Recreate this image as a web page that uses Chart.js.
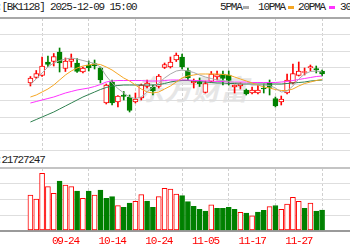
<!DOCTYPE html>
<html>
<head>
<meta charset="utf-8">
<title>BK1128</title>
<script src="https://cdn.jsdelivr.net/npm/chart.js@4.4.1/dist/chart.umd.min.js"></script>
<style>
  html, body { margin: 0; padding: 0; background: #fff; }
  body { width: 350px; height: 250px; overflow: hidden; position: relative; font-family: "Liberation Mono", monospace; }
  .txt { position: absolute; font-size: 11px; line-height: 13px; letter-spacing: -1.2px; color: #222; white-space: nowrap; }
  .dash { position: absolute; top: 6px; width: 6px; height: 3px; }
  #watermark { position: absolute; left: 136px; top: 68px; font: italic bold 28px "Noto Sans CJK SC"; color: #e6e6e6; white-space: nowrap; }
  canvas { position: absolute; left: 0; }
  #kline { top: 0; }
  #vol { top: 156px; }
</style>
</head>
<body>
<div id="watermark">东方财富</div>
<div class="txt" style="left:-4px; top:1px">:[BK1128] 2025-12-09 15:00</div>

<div class="txt" style="left:220px; top:1px">5PMA</div>
<div class="dash" style="left:243px; background:#aaaaaa"></div>
<div class="txt" style="left:258px; top:1px">10PMA</div>
<div class="dash" style="left:288px; background:#f5a623"></div>
<div class="txt" style="left:298px; top:1px">20PMA</div>
<div class="dash" style="left:329px; background:#ff33ff"></div>
<div class="txt" style="left:340px; top:1px">30PMA</div>

<div class="txt" style="left:-4px; top:154px">:21727247</div>

<canvas id="kline" width="350" height="156"></canvas>
<canvas id="vol" width="350" height="94"></canvas>

<script>
const dates = ['09-16','09-17','09-18','09-19','09-22','09-23','09-24','09-25','09-26','09-29','09-30',
  '10-09','10-10','10-13','10-14','10-15','10-16','10-17','10-20','10-21','10-22','10-23','10-24','10-27','10-28','10-29','10-30','10-31',
  '11-03','11-04','11-05','11-06','11-07','11-10','11-11','11-12','11-13','11-14','11-17','11-18','11-19','11-20','11-21','11-24','11-25','11-26','11-27','11-28',
  '12-01','12-02','12-03'];

const opens  = [1067,1072.5,1074.5,1088,1088.5,1098,1081.5,1088.5,1087,1078,1085,1086.5,1082,1047,1068,1048,1055,1053,1048,1052,1063.5,1063,1063.5,1082.5,1083,1090,1093,1079.5,1067,1068,1057.5,1068.5,1073,1076,1075,1063,1064,1060,1057,1057,1062,1067,1051.5,1048,1057,1067,1074.5,1077.5,1082,1081.5,1079];
const closes = [1072,1076.5,1084,1085.5,1093.5,1087,1089,1091,1078.5,1082,1082,1084,1070,1065,1047,1054,1053.5,1039.5,1051,1065,1067,1059,1074,1085.5,1088,1095,1083,1072,1069,1066,1066.5,1076,1075.5,1071.5,1069.5,1065,1066.5,1056,1060,1060,1061,1062.5,1044,1051,1070,1076.5,1079,1078.5,1083.5,1080,1076];
const highs  = [1073.5,1079.5,1093,1094,1096.5,1102,1092,1096,1091.5,1083,1089,1090,1083,1066,1070,1054.5,1058.5,1055,1057,1066,1070,1065,1075.5,1087,1093,1097,1096,1082,1071,1072,1069,1078.5,1079,1079,1079,1065,1067.5,1061,1063,1065,1066,1070,1053,1054,1076,1086,1088,1082,1085,1084,1080];
const lows   = [1064,1071.5,1073.5,1083.5,1084,1078,1078.5,1083,1077.5,1077,1079,1081,1067,1046,1045,1043,1050,1038,1047,1050,1062,1055,1062,1081.5,1082,1088.5,1081,1070,1062,1063.5,1057,1068,1070,1065,1065,1057,1061,1055,1056,1056,1057,1055,1043,1045,1056,1066,1074,1075,1079,1077,1074];

const ma5  = [1066,1071,1077,1083,1087,1089.5,1091,1092,1091,1089.5,1088,1086.5,1083,1074,1067,1061.5,1057,1053,1051.5,1053,1058,1063,1067,1072,1076,1079,1080,1079,1077.5,1075,1073,1071.5,1070,1069.5,1068.5,1067.5,1067,1066,1065,1065,1065,1064.5,1062,1058,1059,1064,1071,1076,1078.5,1079,1078];
const ma10 = [1053,1055,1058,1061,1065,1070,1075,1079,1082,1084,1085,1086,1085.5,1083,1080,1076,1072,1069,1065,1061,1058,1057,1058,1061,1064,1068,1072,1074,1075,1076,1076,1076,1076,1075.5,1075,1073,1071,1069,1067,1065,1063,1062,1060.5,1059.5,1059.5,1061,1064,1066.5,1068,1069.5,1070.5];
const ma20 = [1047,1048.5,1050,1051.5,1053,1055,1057,1058.5,1060,1061,1062,1063.5,1065.5,1068,1069,1069.5,1069.5,1069.5,1069.5,1069.5,1069,1069,1069,1069.5,1070,1070,1070,1070,1069.5,1069.5,1069,1069,1068.5,1068.5,1068,1068,1068,1068,1067.5,1067.5,1067.5,1067.5,1067.5,1068,1068.5,1069.5,1070.5,1071.5,1072.5,1073.5,1074];
const ma30 = [1028,1030.5,1033,1035.5,1038,1041,1044,1047,1050,1053,1055.5,1058,1060.5,1062.5,1064,1064.5,1065,1065,1065,1065,1065,1065,1065.5,1066.5,1068,1069,1069.5,1069.5,1069,1068.5,1068,1067.5,1067,1067,1066.5,1066.5,1066,1066,1066,1066,1066,1066,1066,1066,1066.5,1067,1067.5,1068,1069,1069.5,1070];

// volume in 10k shares, and whether the bar is drawn red (1) or green (0)
const volumes = [1800,1600,2885,2215,1885,2500,2300,2215,2000,1635,2000,1800,2050,1635,1715,1265,1185,1400,1485,1815,1500,1185,1715,2135,2090,1840,1765,1465,1235,1085,1000,1310,1135,1135,1185,1085,935,900,760,940,1035,1215,1275,1085,1350,1685,1485,1135,1390,1000,1050];
const volUp   = [1,1,1,1,1,0,1,1,0,1,0,1,0,0,0,1,0,0,1,1,0,0,1,1,1,1,0,0,0,0,0,1,0,0,0,0,1,0,1,0,0,1,0,1,1,1,1,0,1,0,0];

const tickIdx = [6, 14, 22, 30, 38, 46];

document.addEventListener("DOMContentLoaded", function() {

    const RED = '#ff0000', GREEN = '#008000';
    const xMin = -1.5 / 7, xMax = 50 - 1.5 / 7;
    const isUp = i => closes[i] >= opens[i];

    // tighter letters on canvas text, like the page font
    const tightText = { id: 'tightText', beforeDraw: chart => { chart.ctx.letterSpacing = '-1.2px'; } };

    function xAxis(withLabels) {
        return {
            type: 'linear', min: xMin, max: xMax,
            afterBuildTicks: s => { s.ticks = tickIdx.map(v => ({ value: v })); },
            afterFit: s => { s.height = withLabels ? 19 : 0; },
            grid: { color: '#d0d0d0', drawTicks: false },
            border: { display: false, dash: [3, 2] },
            ticks: {
                display: withLabels, autoSkip: false, maxRotation: 0, padding: 3,
                color: RED, font: { family: 'Liberation Mono', size: 11 },
                callback: v => dates[v]
            }
        };
    }

    function yAxis(min, max, step, topColor, bottomColor) {
        return {
            min: min, max: max,
            afterFit: s => { s.width = 0; },
            ticks: { display: false, stepSize: step },
            border: { display: false },
            grid: {
                drawTicks: false,
                color: c => c.tick.value === max ? topColor : (c.tick.value === min ? bottomColor : '#dedede'),
                lineWidth: c => (c.tick.value === max || (c.tick.value === min && bottomColor !== '#dedede')) ? 2 : 1
            }
        };
    }

    const maLine = (arr, color) => ({
        type: 'line', data: arr.map((v, i) => ({ x: i, y: v })),
        borderColor: color, borderWidth: 1, pointRadius: 0, fill: false, tension: 0
    });

    // 1. K-line with moving averages
    new Chart(document.getElementById('kline'), {
        type: 'bar',
        data: {
            datasets: [
                maLine(ma5, '#aaaaaa'),
                maLine(ma10, '#f5a623'),
                maLine(ma20, '#ff33ff'),
                maLine(ma30, '#2f8050'),
                {
                    data: opens.map((o, i) => ({ x: i, y: [o, closes[i]] })),
                    backgroundColor: c => isUp(c.dataIndex) ? '#ffffff' : GREEN,
                    borderColor: c => isUp(c.dataIndex) ? RED : GREEN,
                    borderWidth: 1, borderSkipped: false, barThickness: 5, grouped: false
                },
                {
                    data: lows.map((l, i) => ({ x: i, y: [l, highs[i]] })),
                    backgroundColor: c => isUp(c.dataIndex) ? RED : GREEN,
                    borderWidth: 0, barThickness: 1, grouped: false
                }
            ]
        },
        options: {
            responsive: false, animation: false, events: [],
            layout: { padding: { top: 18, bottom: 6, left: 0, right: 0 } },
            plugins: { legend: { display: false }, tooltip: { enabled: false } },
            scales: { x: xAxis(false), y: yAxis(1000, 1132, 16.5, '#a8a8a8', '#dedede') }
        }
    });

    // 2. Volume
    new Chart(document.getElementById('vol'), {
        type: 'bar',
        data: {
            datasets: [{
                data: volumes.map((v, i) => ({ x: i, y: v })),
                backgroundColor: c => volUp[c.dataIndex] ? '#ffffff' : GREEN,
                borderColor: c => volUp[c.dataIndex] ? RED : GREEN,
                borderWidth: 1, borderSkipped: false, barThickness: 5
            }]
        },
        options: {
            responsive: false, animation: false, events: [],
            layout: { padding: { top: 12, bottom: 0, left: 0, right: 0 } },
            plugins: { legend: { display: false }, tooltip: { enabled: false } },
            scales: { x: xAxis(true), y: yAxis(0, 3150, 787.5, '#c4c4c4', '#9a9a9a') }
        },
        plugins: [tightText]
    });

});
</script>
</body>
</html>
